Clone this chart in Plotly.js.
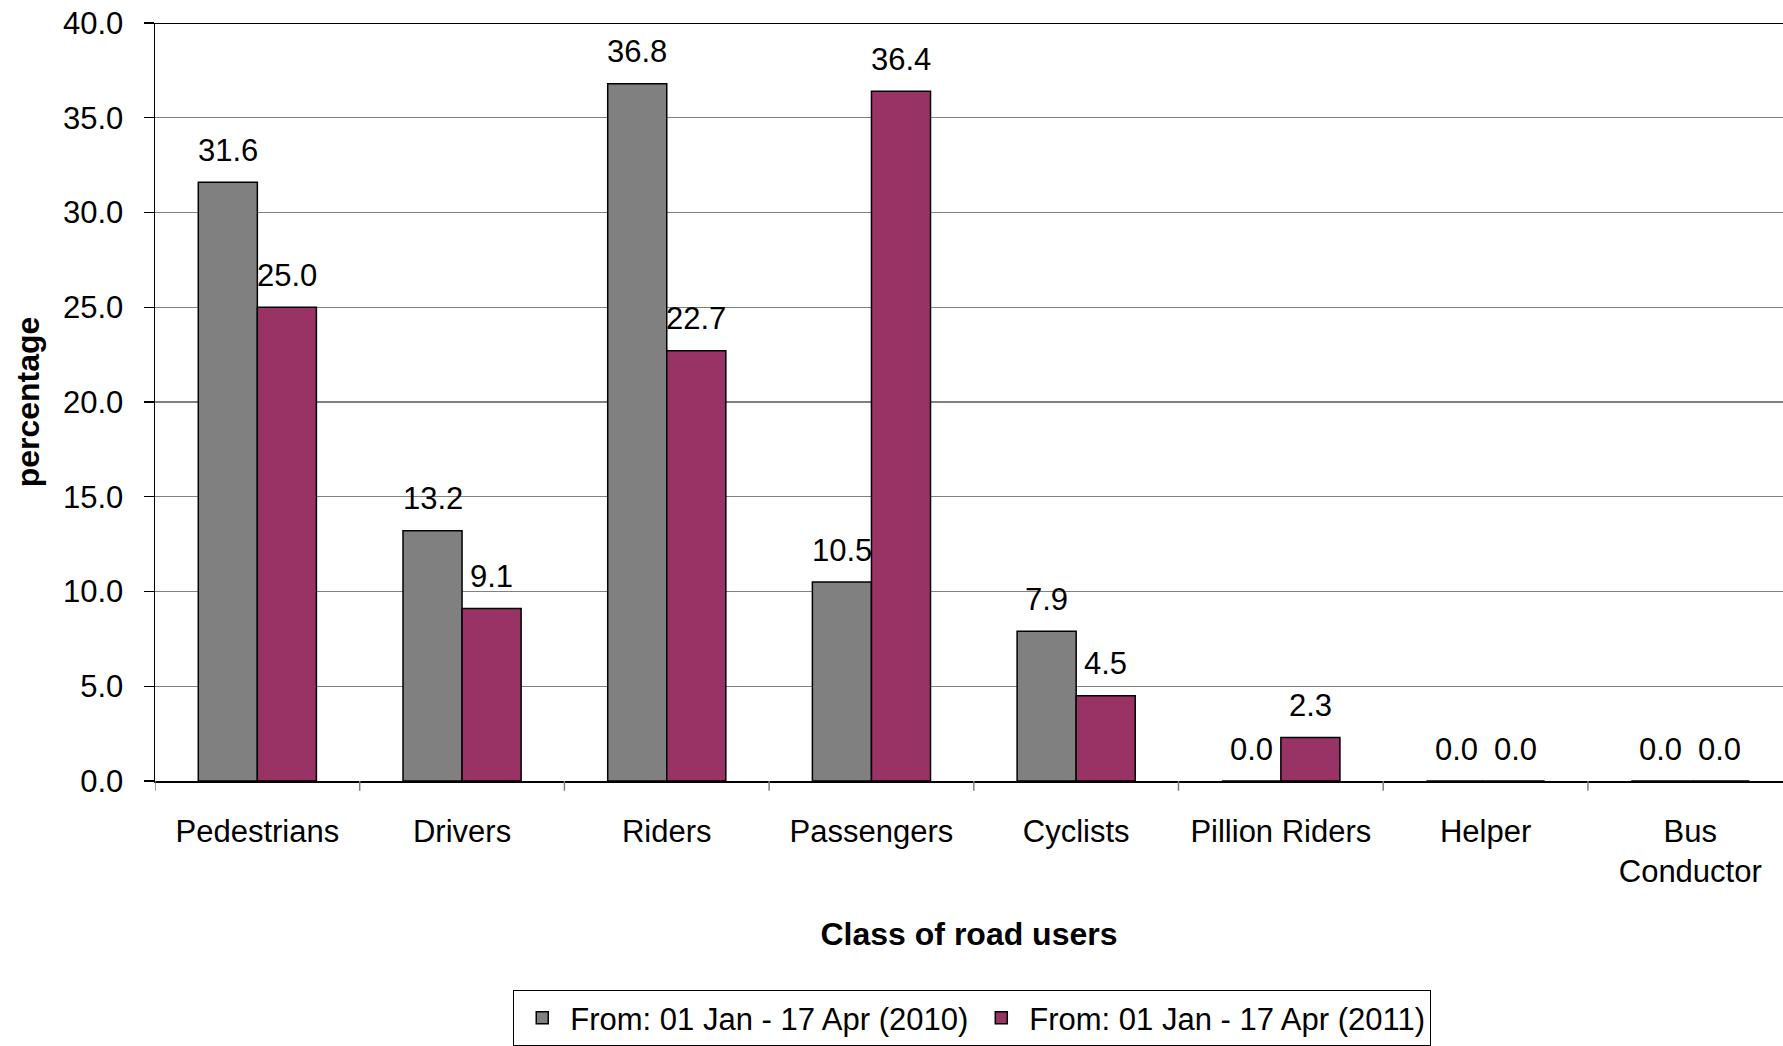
<!DOCTYPE html>
<html>
<head>
<meta charset="utf-8">
<script src="https://cdn.plot.ly/plotly-3.0.1.min.js"></script>
<style>html,body{margin:0;padding:0;background:#fff;}#chart{width:1783px;height:1046px;}</style>
</head>
<body>
<div id="chart"></div>
<script>
const categories = ["Pedestrians", "Drivers", "Riders", "Passengers", "Cyclists", "Pillion Riders", "Helper", "Bus<br>Conductor"];
const series2010Name = "From: 01 Jan - 17 Apr (2010)";
const series2011Name = "From: 01 Jan - 17 Apr (2011)";
const values2010 = [31.6, 13.2, 36.8, 10.5, 7.9, 0.0, 0.0, 0.0];
const values2011 = [25.0, 9.1, 22.7, 36.4, 4.5, 2.3, 0.0, 0.0];
const yTickValues = [0, 5, 10, 15, 20, 25, 30, 35, 40];

const FONT = "Liberation Sans, Arial, sans-serif";
const bargap = 0.423;
const half = (1 - bargap) / 4; // center offset of each bar within its category

const idx = categories.map((_, i) => i);

const traces = [
  {
    type: "bar", name: series2010Name, x: idx, y: values2010,
    marker: {color: "#808080", line: {color: "#000000", width: 1.5}},
    hoverinfo: "y"
  },
  {
    type: "bar", name: series2011Name, x: idx, y: values2011,
    marker: {color: "#993366", line: {color: "#000000", width: 1.5}},
    hoverinfo: "y"
  }
];

const annotations = [];
[[values2010, -half], [values2011, half]].forEach(([vals, off]) => {
  vals.forEach((v, i) => {
    annotations.push({
      x: i + off, y: v, xref: "x", yref: "y",
      text: v.toFixed(1), showarrow: false,
      yanchor: "middle", yshift: 32,
      font: {family: FONT, size: 31, color: "#000"}
    });
  });
});

const layout = {
  width: 1783, height: 1046,
  margin: {l: 155, r: 0, t: 23, b: 264, pad: 0},
  paper_bgcolor: "#ffffff", plot_bgcolor: "#ffffff",
  font: {family: FONT, size: 31, color: "#000"},
  barmode: "group", bargap: bargap, bargroupgap: 0,
  showlegend: true,
  legend: {
    orientation: "h", x: 0.502, xanchor: "center", y: -0.275, yanchor: "top",
    bordercolor: "#000", borderwidth: 1, bgcolor: "#fff", itemwidth: 46,
    font: {family: FONT, size: 31, color: "#000"}
  },
  xaxis: {
    type: "linear", range: [-0.5, 7.453],
    tickmode: "array", tickvals: idx, ticktext: categories,
    showgrid: false, zeroline: false,
    showline: true, linecolor: "#000", linewidth: 1.5,
    ticks: "", ticklabelstandoff: 22,
    tickfont: {family: FONT, size: 31, color: "#000"},
    title: {text: "<b>Class of road users</b>", font: {family: FONT, size: 32, color: "#000"}, standoff: 34}
  },
  yaxis: {
    range: [0, 40], tickmode: "array", tickvals: yTickValues,
    ticktext: yTickValues.map(v => v.toFixed(1)),
    showgrid: true, gridcolor: "#808080", gridwidth: 1.3,
    zeroline: false, showline: true, linecolor: "#000", linewidth: 1.5,
    ticks: "outside", ticklen: 10, tickcolor: "#000", tickwidth: 1.3,
    ticklabelstandoff: 14,
    tickfont: {family: FONT, size: 31, color: "#000"},
    title: {text: "<b>percentage</b>", font: {family: FONT, size: 32, color: "#000"}, standoff: 14}
  },
  shapes: [
    {type: "line", xref: "paper", yref: "y", x0: 0, x1: 1, y0: 40, y1: 40, line: {color: "#000", width: 2}}
  ].concat(idx.map(i => ({
    type: "line", xref: "x", yref: "paper", x0: i + 0.5, x1: i + 0.5, y0: 0, y1: -0.013,
    line: {color: "#808080", width: 1.5}
  }))).concat([{
    type: "line", xref: "x", yref: "paper", x0: -0.5, x1: -0.5, y0: 0, y1: -0.013,
    line: {color: "#808080", width: 1.5}
  }]),
  annotations: annotations
};

Plotly.newPlot("chart", traces, layout, {displayModeBar: false, staticPlot: true});
</script>
</body>
</html>
